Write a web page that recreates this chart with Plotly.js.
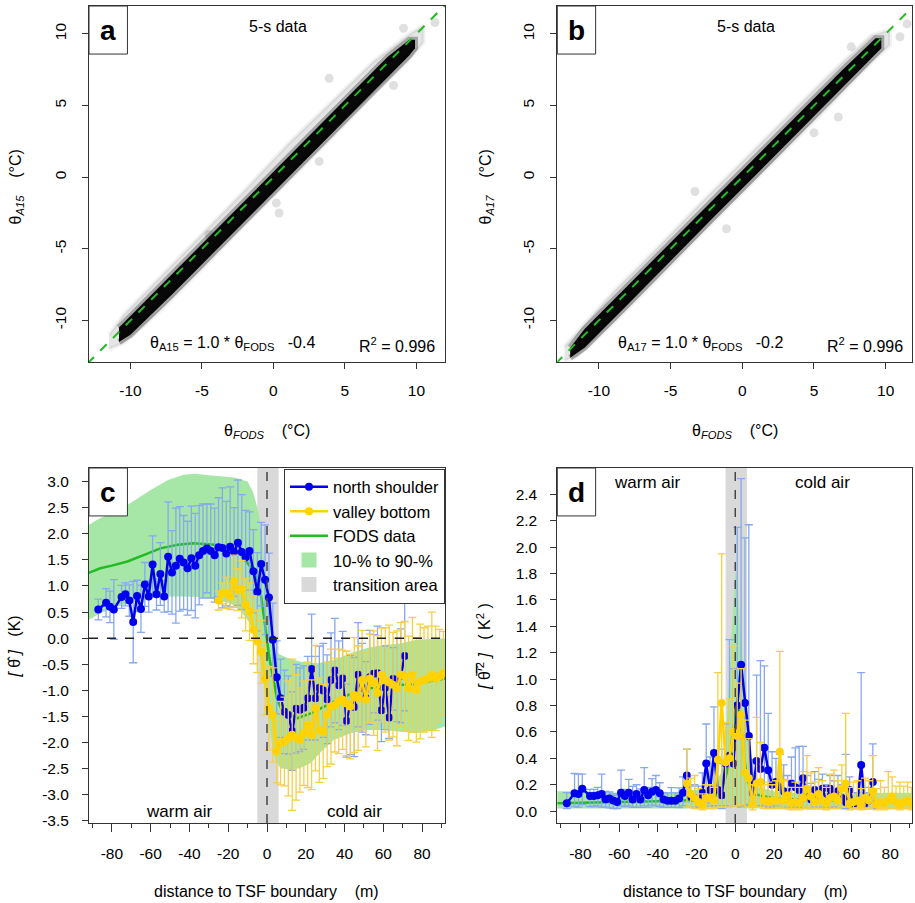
<!DOCTYPE html>
<html><head><meta charset="utf-8">
<script src="https://cdn.plot.ly/plotly-3.0.1.min.js"></script>
<style>html,body{margin:0;padding:0;background:#fff}#chart{width:915px;height:903px}</style>
</head><body><div id="chart"></div>
<script>
// ---------- Panel a / b : scatter clouds (envelopes) ----------
const oneToOne = [-13, 12.5];
const cloudA_coreX  = [-10.8, -10.0, -7.0, -4.0, -1.0, 2.0, 5.0, 8.0, 9.5, 9.9];
const cloudA_coreLo = [-11.5, -11.0, -8.1, -5.1, -2.1, 1.0, 4.0, 7.0, 8.5, 9.0];
const cloudA_coreHi = [-10.5, -9.6, -6.7, -3.7, -0.7, 2.4, 5.4, 8.4, 9.6, 9.6];
const cloudA_haloX  = [-11.5, -10.5, -8.0, -5.0, -2.0, 1.0, 4.0, 7.0, 9.5, 10.5];
const cloudA_haloLo = [-12.0, -11.6, -9.4, -6.4, -3.3, -0.3, 2.7, 5.8, 8.2, 9.4];
const cloudA_haloHi = [-11.0, -9.6, -7.0, -4.0, -0.9, 2.3, 5.2, 8.1, 10.0, 10.6];
const outA_x = [3.9, 0.4, 3.2, 8.4, 9.1, 11.3, 0.2, -4.5];
const outA_y = [6.9, -2.5, 1.1, 6.4, 10.4, 10.8, -1.8, -4.0];

const cloudB_coreX  = [-12.0, -11.0, -8.0, -5.0, -2.0, 1.0, 4.0, 7.0, 9.3, 9.7];
const cloudB_coreLo = [-12.6, -11.9, -8.9, -5.8, -2.8, 0.2, 3.2, 6.2, 8.6, 9.0];
const cloudB_coreHi = [-11.9, -10.6, -7.6, -4.5, -1.5, 1.5, 4.5, 7.5, 9.7, 9.7];
const cloudB_haloX  = [-12.4, -11.5, -9.0, -6.0, -3.0, 0.0, 3.0, 6.0, 9.0, 10.3];
const cloudB_haloLo = [-12.8, -12.5, -10.2, -7.2, -4.1, -1.1, 1.9, 4.9, 8.0, 9.2];
const cloudB_haloHi = [-11.8, -10.8, -8.0, -5.0, -1.9, 1.1, 4.1, 7.1, 9.9, 10.3];
const outB_x = [11.5, 11.0, 6.7, 5.0, -1.1, -3.3, 7.6];
const outB_y = [10.7, 9.8, 4.2, 3.1, -3.6, -1.0, 9.1];

// ---------- Panel c ----------
const transitionX = [-5, 6];
const blueX = [-87,-83,-81,-79,-75,-73,-71,-69,-67,-65,-63,-61,-59,-57,-55,-53,-51,-49,-47,-45,-43,-41,-39,-37,-35,-33,-31,-29,-27,-25,-23,-21,-19,-17,-15,-13,-11,-9,-7,-5,-3,-1,1,3,5,7,9,11,13,15,17,19,21,23,25,27,29,31,33,35,37,39,41,43,45,47,49,51,53,55,57,59,61,63,65,67,69,71];
const blueCY = [0.55,0.68,0.60,0.55,0.79,0.84,0.72,0.31,0.81,0.56,1.03,0.80,1.41,0.84,1.23,0.80,1.56,1.26,1.39,1.52,1.45,1.34,1.53,1.39,1.59,1.67,1.72,1.67,1.59,1.74,1.73,1.62,1.75,1.65,1.83,1.65,1.55,1.67,1.28,0.89,1.42,1.12,
  0.78,-0.03,-0.75,-1.15,-1.41,-1.47,-1.78,-1.35,-1.37,-1.33,-1.15,-0.59,-1.15,-0.95,-1.0,-1.17,-0.8,-0.62,-0.9,-0.77,-1.58,-1.28,-1.32,-0.7,-0.95,-1.15,-0.75,-0.68,-0.67,-1.38,-0.95,-1.52,-0.78,-0.8,-0.72,-0.34];
const blueCErr = [0.20,0.27,0.30,0.57,0.22,0.22,0.30,0.78,0.30,0.45,0.42,0.30,0.55,0.30,0.60,0.30,1.05,0.80,1.10,1.00,0.90,0.90,1.00,1.00,0.95,0.90,0.85,0.90,0.90,0.95,1.15,1.00,1.15,0.85,1.20,1.10,0.90,0.75,0.80,0.75,0.80,1.05,
  0.85,0.7,0.7,0.75,0.8,0.75,0.75,0.85,0.8,0.8,0.8,1.05,0.8,0.8,0.9,0.85,0.9,1.0,0.85,0.9,0.7,0.95,0.95,1.0,0.85,0.7,0.9,0.75,0.9,0.6,0.8,0.4,0.6,0.8,0.9,1.05];
const yellowX = [-25,-23,-21,-19,-17,-15,-13,-11,-9,-7,-5,-3,-1,1,3,5,7,9,11,13,15,17,19,21,23,25,27,29,31,33,35,37,39,41,43,45,47,49,51,53,55,57,59,61,63,65,67,69,71,73,75,77,79,81,83,85,87,89,91];
const yellowCY = [0.72,0.86,0.87,0.80,1.09,0.93,0.94,0.64,0.51,0.16,-0.06,-0.26,-0.77,
  -1.34,-1.47,-2.17,-2.01,-1.98,-1.92,-1.85,-1.9,-1.95,-1.82,-1.66,-1.85,-1.34,-1.76,-1.79,-1.46,-1.31,-1.28,-1.21,-1.18,-1.25,-1.31,-1.09,-1.15,-0.8,-1.18,-0.77,-0.86,-1.05,-0.70,-0.80,-0.85,-0.89,-0.96,-0.70,-0.73,-0.96,-0.70,-0.99,-0.83,-0.80,-0.77,-0.70,-0.77,-0.73,-0.67];
const yellowCErr = [0.18,0.2,0.3,0.25,0.5,0.4,0.55,0.5,0.55,0.65,0.6,0.6,0.7,
  0.8,0.9,0.6,0.8,0.85,1.1,1.45,1.2,1.0,1.0,1.2,1.05,1.2,1.0,0.9,1.0,1.1,0.9,1.0,0.95,1.0,1.0,1.1,1.0,0.95,0.9,0.85,1.0,1.1,0.9,1.0,1.1,1.0,1.1,1.0,1.05,1.0,1.1,1.0,1.1,1.0,1.0,1.2,1.0,0.9,0.8];
const fodsCX = [-92,-86,-80,-72,-63,-55,-46,-38,-27,-19,-14,-10,-7,-5,-3,-1.7,0,1.3,2.6,4,5.3,7,10.5,15.6,22.6,29.5,38,48,57,65,74,82.5,92];
const fodsCY = [1.25,1.34,1.39,1.47,1.6,1.72,1.79,1.82,1.79,1.72,1.62,1.44,1.28,1.12,0.8,0.48,-0.03,-0.4,-0.67,-0.95,-1.18,-1.32,-1.44,-1.53,-1.44,-1.31,-1.15,-0.99,-0.93,-0.89,-0.89,-0.83,-0.77];
const bandCUpX = [-92,-86,-77,-68,-60,-51,-43,-37,-30,-17,-10,-7,-4.3,-2.6,-0.9,0.9,2.6,5.3,10.5,17.4,26,34.4,43,51.6,60,69,77,92];
const bandCUp  = [2.17,2.3,2.43,2.65,2.84,3.03,3.13,3.15,3.12,3.08,3.0,2.78,2.4,1.95,1.25,0.48,0.03,-0.29,-0.38,-0.45,-0.48,-0.42,-0.29,-0.19,-0.13,-0.1,-0.03,0.0];
const bandCLoX = [-92,-86,-77,-68,-60,-51,-43,-34,-26,-19,-14,-9.5,-6,-3.4,-0.9,1.7,4.3,6.9,12,17,22.6,28,34.4,43,51.6,60,69,77,86,92];
const bandCLo  = [0.35,0.48,0.61,0.7,0.77,0.8,0.8,0.79,0.73,0.67,0.54,0.32,0.03,-0.42,-1.05,-1.82,-2.33,-2.49,-2.52,-2.49,-2.39,-2.17,-1.95,-1.82,-1.76,-1.76,-1.79,-1.82,-1.76,-1.69];

// ---------- Panel d ----------
const blueDY = [0.06,0.135,0.13,0.17,0.115,0.115,0.12,0.13,0.09,0.095,0.08,0.07,0.14,0.115,0.14,0.088,0.13,0.088,0.16,0.12,0.146,0.16,0.135,0.088,0.078,0.078,0.078,0.096,0.14,0.27,0.11,0.10,0.09,0.14,0.36,0.16,0.44,0.16,0.12,0.36,0.42,0.36,
  0.80,1.11,0.82,0.57,0.14,0.38,0.32,0.48,0.31,0.20,0.22,0.18,0.15,0.12,0.21,0.18,0.16,0.25,0.12,0.09,0.16,0.12,0.17,0.08,0.17,0.13,0.15,0.10,0.07,0.16,0.06,0.06,0.35,0.06,0.08,0.22];
const blueDErrUp = [0.08,0.15,0.15,0.11,0.05,0.05,0.06,0.15,0.06,0.05,0.05,0.05,0.17,0.05,0.1,0.1,0.07,0.08,0.17,0.06,0.1,0.11,0.08,0.05,0.06,0.1,0.06,0.08,0.12,0.2,0.08,0.1,0.1,0.15,0.3,0.25,0.35,0.2,0.35,0.3,0.88,0.72,
  1.35,1.41,1.25,1.6,0.25,0.65,0.82,0.62,0.43,0.25,0.18,0.25,0.2,0.15,0.2,0.3,0.33,0.24,0.15,0.12,0.14,0.12,0.11,0.12,0.1,0.1,0.12,0.1,0.36,0.1,0.08,0.08,0.7,0.08,0.1,0.29];
const blueDErrDn = [0.04,0.1,0.1,0.12,0.08,0.08,0.08,0.1,0.06,0.07,0.06,0.05,0.1,0.08,0.1,0.06,0.1,0.06,0.12,0.09,0.1,0.12,0.1,0.06,0.05,0.05,0.05,0.07,0.1,0.2,0.08,0.07,0.06,0.1,0.3,0.12,0.4,0.12,0.1,0.32,0.38,0.32,
  0.76,1.08,0.78,0.52,0.1,0.34,0.28,0.44,0.28,0.17,0.18,0.15,0.12,0.1,0.18,0.15,0.13,0.22,0.1,0.07,0.13,0.1,0.14,0.06,0.14,0.1,0.12,0.08,0.05,0.13,0.04,0.04,0.32,0.04,0.06,0.2];
const yellowDY = [0.21,0.13,0.1,0.07,0.05,0.1,0.1,0.08,0.39,0.82,0.37,0.4,0.6,
  0.57,0.73,0.29,0.25,0.05,0.21,0.22,0.08,0.07,0.08,0.08,0.45,0.08,0.12,0.06,0.07,0.06,0.1,0.17,0.11,0.07,0.13,0.08,0.06,0.1,0.11,0.08,0.17,0.21,0.06,0.07,0.08,0.05,0.1,0.08,0.15,0.05,0.07,0.06,0.08,0.11,0.07,0.05,0.07,0.08,0.06];
const yellowDErrUp = [0.26,0.12,0.17,0.1,0.08,0.1,0.1,0.1,0.66,1.13,0.3,0.45,0.65,
  0.4,0.35,0.4,0.3,0.15,0.5,0.3,0.12,0.15,0.12,0.15,0.76,0.15,0.12,0.12,0.15,0.12,0.2,0.25,0.18,0.15,0.2,0.15,0.12,0.18,0.2,0.15,0.18,0.53,0.12,0.15,0.15,0.12,0.15,0.15,0.27,0.12,0.16,0.12,0.22,0.15,0.12,0.17,0.12,0.14,0.12];
const yellowDErrDn = [0.18,0.1,0.08,0.05,0.04,0.08,0.08,0.06,0.36,0.79,0.34,0.37,0.56,
  0.53,0.68,0.26,0.22,0.04,0.18,0.19,0.06,0.05,0.06,0.06,0.42,0.06,0.1,0.05,0.05,0.05,0.08,0.14,0.09,0.05,0.11,0.06,0.05,0.08,0.09,0.06,0.14,0.18,0.05,0.05,0.06,0.04,0.08,0.06,0.12,0.04,0.05,0.05,0.06,0.09,0.05,0.04,0.05,0.06,0.05];
const fodsDX = [-92,-80,-60,-40,-25,-20,-15,-10,-7,-5,-3,-1,0,1,2,3,4,5,6,8,10,15,20,30,40,50,60,70,80,92];
const fodsDY = [0.06,0.065,0.07,0.075,0.08,0.085,0.09,0.12,0.18,0.25,0.4,0.6,0.72,0.78,0.76,0.65,0.5,0.36,0.26,0.16,0.13,0.11,0.1,0.09,0.08,0.08,0.075,0.07,0.07,0.07];
const bandDUpX = [-92,-80,-60,-40,-25,-15,-10,-7,-5,-4,-3,-2,-1,0,1,2,3,4,5,6,7,8,10,12,20,30,50,70,92];
const bandDUp  = [0.15,0.15,0.14,0.14,0.15,0.17,0.22,0.3,0.55,0.8,1.05,1.35,1.6,1.82,1.75,1.5,1.3,1.12,0.98,0.75,0.55,0.4,0.25,0.18,0.15,0.14,0.14,0.14,0.14];
const bandDLoX = [-92,-5,0,5,92];
const bandDLo  = [0.02,0.02,0.04,0.02,0.02];

// ---------- ticks ----------
const abTicks = [-10,-5,0,5,10];
const abTickText = ['-10','-5','0','5','10'];
const cdXTicks = [-80,-60,-40,-20,0,20,40,60,80];
const cdXTickText = ['-80','-60','-40','-20','0','20','40','60','80'];
const cdXMinor = [-90,-70,-50,-30,-10,10,30,50,70,90];
const cYTicks = [3.0,2.5,2.0,1.5,1.0,0.5,0.0,-0.5,-1.0,-1.5,-2.0,-2.5,-3.0,-3.5];
const cYTickText = ['3.0','2.5','2.0','1.5','1.0','0.5','0.0','-0.5','-1.0','-1.5','-2.0','-2.5','-3.0','-3.5'];
const dYTicks = [0,0.2,0.4,0.6,0.8,1.0,1.2,1.4,1.6,1.8,2.0,2.2,2.4];
const dYTickText = ['0.0','0.2','0.4','0.6','0.8','1.0','1.2','1.4','1.6','1.8','2.0','2.2','2.4'];

// ---------- style ----------
const FONT = 'Liberation Sans, Arial, Helvetica, sans-serif';
const W = 915, H = 903;
const px = v => v / W, py = v => 1 - v / H;
const BLUE = '#0000ee', BLUE_ERR = '#86a8f0', YEL = '#ffd200', YEL_ERR = '#f6cf45';
const GREEN = '#22bb22', BAND = '#a6e6a6', GREY = '#d9d9d9';

function poly(xu, yu, xl, yl) {
  return { x: xu.concat(xl.slice().reverse()), y: yu.concat(yl.slice().reverse()) };
}
const traces = [];
function cloud(xa, ya, cx, clo, chi, hx, hlo, hhi, ox, oy) {
  const h = poly(hx, hlo, hx, hhi);
  traces.push({x: h.x, y: h.y, xaxis: xa, yaxis: ya, mode: 'lines', fill: 'toself', fillcolor: 'rgba(0,0,0,0.10)', line: {width: 4, color: 'rgba(0,0,0,0.05)'}, showlegend: false, hoverinfo: 'skip'});
  const c = poly(cx, clo, cx, chi);
  traces.push({x: c.x, y: c.y, xaxis: xa, yaxis: ya, mode: 'lines', fill: 'toself', fillcolor: 'rgba(0,0,0,0.97)', line: {width: 6, color: 'rgba(0,0,0,0.28)'}, showlegend: false, hoverinfo: 'skip'});
  traces.push({x: ox, y: oy, xaxis: xa, yaxis: ya, mode: 'markers', marker: {size: 9, color: 'rgba(0,0,0,0.12)'}, showlegend: false, hoverinfo: 'skip'});
  traces.push({x: oneToOne, y: oneToOne, xaxis: xa, yaxis: ya, mode: 'lines', line: {color: GREEN, width: 2, dash: 'dash'}, showlegend: false, hoverinfo: 'skip'});
}
cloud('x', 'y', cloudA_coreX, cloudA_coreLo, cloudA_coreHi, cloudA_haloX, cloudA_haloLo, cloudA_haloHi, outA_x, outA_y);
cloud('x2', 'y2', cloudB_coreX, cloudB_coreLo, cloudB_coreHi, cloudB_haloX, cloudB_haloLo, cloudB_haloHi, outB_x, outB_y);

// panel c
const bc = poly(bandCUpX, bandCUp, bandCLoX, bandCLo);
traces.push({x: bc.x, y: bc.y, xaxis: 'x3', yaxis: 'y3', mode: 'lines', fill: 'toself', fillcolor: BAND, line: {width: 0}, showlegend: false, hoverinfo: 'skip'});
traces.push({x: fodsCX, y: fodsCY, xaxis: 'x3', yaxis: 'y3', mode: 'lines', line: {color: GREEN, width: 2.5}, name: 'FODS data', legendrank: 3});
traces.push({x: blueX, y: blueCY, xaxis: 'x3', yaxis: 'y3', mode: 'lines+markers', line: {color: BLUE, width: 2.5}, marker: {color: BLUE, size: 8},
  error_y: {type: 'data', array: blueCErr, color: BLUE_ERR, thickness: 1.3, width: 4}, name: 'north shoulder', legendrank: 1});
traces.push({x: yellowX, y: yellowCY, xaxis: 'x3', yaxis: 'y3', mode: 'lines+markers', line: {color: YEL, width: 2.5}, marker: {color: YEL, size: 8},
  error_y: {type: 'data', array: yellowCErr, color: YEL_ERR, thickness: 1.3, width: 4}, name: 'valley bottom', legendrank: 2});
traces.push({x: [null], y: [null], xaxis: 'x3', yaxis: 'y3', mode: 'markers', marker: {symbol: 'square', size: 15, color: BAND}, name: '10-% to 90-%', legendrank: 4});
traces.push({x: [null], y: [null], xaxis: 'x3', yaxis: 'y3', mode: 'markers', marker: {symbol: 'square', size: 15, color: GREY}, name: 'transition area', legendrank: 5});

// panel d
const bd = poly(bandDUpX, bandDUp, bandDLoX, bandDLo);
traces.push({x: bd.x, y: bd.y, xaxis: 'x4', yaxis: 'y4', mode: 'lines', fill: 'toself', fillcolor: BAND, line: {width: 0}, showlegend: false, hoverinfo: 'skip'});
traces.push({x: fodsDX, y: fodsDY, xaxis: 'x4', yaxis: 'y4', mode: 'lines', line: {color: GREEN, width: 2.5}, showlegend: false});
traces.push({x: blueX, y: blueDY, xaxis: 'x4', yaxis: 'y4', mode: 'lines+markers', line: {color: BLUE, width: 2.5}, marker: {color: BLUE, size: 8},
  error_y: {type: 'data', symmetric: false, array: blueDErrUp, arrayminus: blueDErrDn, color: BLUE_ERR, thickness: 1.3, width: 4}, showlegend: false});
traces.push({x: yellowX, y: yellowDY, xaxis: 'x4', yaxis: 'y4', mode: 'lines+markers', line: {color: YEL, width: 2.5}, marker: {color: YEL, size: 8},
  error_y: {type: 'data', symmetric: false, array: yellowDErrUp, arrayminus: yellowDErrDn, color: YEL_ERR, thickness: 1.3, width: 4}, showlegend: false});

// ---------- axes ----------
function ax(domain, range, extra) {
  return Object.assign({domain: domain, range: range, showgrid: false, zeroline: false, showline: true, mirror: true,
    linecolor: '#333', linewidth: 1, ticks: 'outside', ticklen: 6, tickcolor: '#333', tickwidth: 1,
    tickfont: {size: 15.5, family: FONT, color: '#000'}, fixedrange: true, tickmode: 'array'}, extra);
}
const xa = [px(89), px(445)], xb = [px(557.3), px(912.3)];
const yab = [py(362), py(6)], ycd = [py(823), py(468)];
const cdX = {tickvals: cdXTicks, ticktext: cdXTickText, ticklen: 8, ticklabelstandoff: 8,
  minor: {tickmode: 'array', tickvals: cdXMinor, ticklen: 4, ticks: 'outside', tickcolor: '#333'}};
const layout = {
  width: W, height: H, margin: {l: 0, r: 0, t: 0, b: 0}, paper_bgcolor: '#fff', plot_bgcolor: '#fff',
  font: {family: FONT, size: 15, color: '#000'}, showlegend: true,
  legend: {x: px(445), xanchor: 'right', y: py(468.5), yanchor: 'top', bgcolor: '#fff', bordercolor: '#333', borderwidth: 1,
    font: {size: 16.5, family: FONT}, itemwidth: 38, tracegroupgap: 0},
  xaxis:  ax(xa, [-12.9, 12.0], {anchor: 'y', tickvals: abTicks, ticktext: abTickText, ticklabelstandoff: 8}),
  yaxis:  ax(yab, [-12.9, 11.95], {anchor: 'x', tickvals: abTicks, ticktext: abTickText, tickangle: -90, ticklabelstandoff: 10}),
  xaxis2: ax(xb, [-12.9, 11.86], {anchor: 'y2', tickvals: abTicks, ticktext: abTickText, ticklabelstandoff: 8}),
  yaxis2: ax(yab, [-12.9, 11.95], {anchor: 'x2', tickvals: abTicks, ticktext: abTickText, tickangle: -90, ticklabelstandoff: 10}),
  xaxis3: ax(xa, [-91.8, 91.8], Object.assign({anchor: 'y3'}, cdX)),
  yaxis3: ax(ycd, [-3.54, 3.26], {anchor: 'x3', tickvals: cYTicks, ticktext: cYTickText, ticklabelstandoff: 10}),
  xaxis4: ax(xb, [-91.9, 91.4], Object.assign({anchor: 'y4'}, cdX)),
  yaxis4: ax(ycd, [-0.09, 2.6], {anchor: 'x4', tickvals: dYTicks, ticktext: dYTickText, ticklabelstandoff: 10}),
  shapes: [
    {type: 'rect', xref: 'x3', yref: 'y3 domain', x0: transitionX[0], x1: transitionX[1], y0: 0, y1: 1, fillcolor: GREY, line: {width: 0}, layer: 'below'},
    {type: 'rect', xref: 'x4', yref: 'y4 domain', x0: transitionX[0], x1: transitionX[1], y0: 0, y1: 1, fillcolor: GREY, line: {width: 0}, layer: 'below'},
    {type: 'line', xref: 'x3 domain', yref: 'y3', x0: 0, x1: 1, y0: 0, y1: 0, line: {color: '#222', width: 1.5, dash: 'dash'}, layer: 'above'},
    {type: 'line', xref: 'x3', yref: 'y3 domain', x0: 0, x1: 0, y0: 0, y1: 1, line: {color: '#444', width: 1.5, dash: 'dash'}, layer: 'above'},
    {type: 'line', xref: 'x4', yref: 'y4 domain', x0: 0, x1: 0, y0: 0, y1: 1, line: {color: '#444', width: 1.5, dash: 'dash'}, layer: 'above'}
  ],
  annotations: []
};
// panel letter boxes
[['x', 'y', 'a'], ['x2', 'y2', 'b'], ['x3', 'y3', 'c'], ['x4', 'y4', 'd']].forEach(([xr, yr, t]) => {
  layout.shapes.push({type: 'rect', xref: xr + ' domain', yref: yr + ' domain', x0: 0, x1: 0.108, y0: 0.865, y1: 1,
    fillcolor: '#fff', line: {color: '#333', width: 1}, layer: 'above'});
  layout.annotations.push({xref: xr + ' domain', yref: yr + ' domain', x: 0.054, y: 0.932, text: '<b>' + t + '</b>',
    showarrow: false, xanchor: 'center', yanchor: 'middle', font: {size: 28, family: FONT}});
});
const NB = '\u00a0';
function ann(x, y, text, opts) {
  layout.annotations.push(Object.assign({xref: 'paper', yref: 'paper', x: px(x), y: py(y), text: text, showarrow: false,
    xanchor: 'center', yanchor: 'middle', font: {size: 16, family: FONT}}, opts || {}));
}
ann(277.7, 27, '5-s data');
ann(746, 27, '5-s data');
ann(147.7, 343.5, 'θ<sub>A15</sub> = 1.0 * θ<sub>FODS</sub>' + NB.repeat(3) + '-0.4', {xanchor: 'left'});
ann(436.7, 345, 'R<sup>2</sup> = 0.996', {xanchor: 'right'});
ann(616, 343.5, 'θ<sub>A17</sub> = 1.0 * θ<sub>FODS</sub>' + NB.repeat(3) + '-0.2', {xanchor: 'left'});
ann(905, 345, 'R<sup>2</sup> = 0.996', {xanchor: 'right'});
ann(266.7, 431, 'θ<sub><i>FODS</i></sub>' + NB.repeat(4) + '(°C)');
ann(735, 431, 'θ<sub><i>FODS</i></sub>' + NB.repeat(4) + '(°C)');
ann(16.7, 186.7, 'θ<sub><i>A15</i></sub>' + NB.repeat(4) + '(°C)', {textangle: -90});
ann(486.7, 186.7, 'θ<sub><i>A17</i></sub>' + NB.repeat(4) + '(°C)', {textangle: -90});
ann(266.7, 891.5, 'distance to TSF boundary' + NB.repeat(4) + '(m)');
ann(735, 891.5, 'distance to TSF boundary' + NB.repeat(4) + '(m)');
ann(15, 646.7, '<i>[</i>' + NB + 'θ\u0302' + NB + '<i>]</i>' + NB.repeat(3) + '(K)', {textangle: -90});
ann(483.3, 646.7, '<i>[</i>' + NB + 'θ\u0305\u2032\u0305<sup>2</sup>' + NB + '<i>]</i>' + NB.repeat(3) + '(' + NB + 'K<sup>2</sup>' + NB + ')', {textangle: -90});
ann(179.3, 811.5, 'warm air', {font: {size: 17, family: FONT}});
ann(354, 811.5, 'cold air', {font: {size: 17, family: FONT}});
ann(647.7, 482.3, 'warm air', {font: {size: 17, family: FONT}});
ann(822.3, 482.3, 'cold air', {font: {size: 17, family: FONT}});

Plotly.newPlot('chart', traces, layout, {staticPlot: true, displayModeBar: false});
</script></body></html>
